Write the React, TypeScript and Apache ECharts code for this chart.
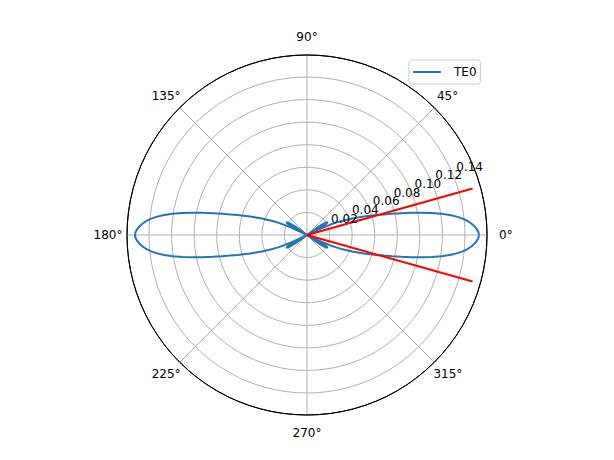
import React, { useEffect, useRef } from 'react';
import * as echarts from 'echarts';

const seriesName = 'TE0';
const angleTickValues = [0, 45, 90, 135, 180, 225, 270, 315];
const angleTickLabels = ['0°', '45°', '90°', '135°', '180°', '225°', '270°', '315°'];
const radiusTickValues = [0.02, 0.04, 0.06, 0.08, 0.1, 0.12, 0.14];
const radiusTickLabels = ['0.02', '0.04', '0.06', '0.08', '0.10', '0.12', '0.14'];
const radiusMax = 0.1595;

// Pattern, quadrant by quadrant (angle in degrees, radius)
const q1Angle = [0, 1, 2, 3, 4, 5, 6, 7, 8, 9, 10, 11, 12, 13, 14, 15, 16, 18, 20, 22, 23, 24, 25, 26, 27, 28, 29, 30, 31, 32, 33, 34, 35, 36, 37, 38, 45, 60, 75, 90];
const q1Radius = [0.1524, 0.1519, 0.1505, 0.1485, 0.146, 0.1427, 0.1387, 0.1337, 0.1278, 0.1205, 0.1123, 0.1035, 0.0945, 0.0858, 0.0778, 0.0705, 0.064, 0.0528, 0.0425, 0.033, 0.028, 0.0222, 0.015, 0.007, 0.0, 0.008, 0.014, 0.0185, 0.0208, 0.0215, 0.0205, 0.018, 0.014, 0.009, 0.004, 0.0, 0, 0, 0, 0];
const q2Angle = [90, 105, 120, 135, 142, 143, 144, 145, 146, 147, 148, 149, 150, 151, 152, 153, 154, 155, 156, 157, 158, 160, 162, 164, 165, 166, 167, 168, 169, 170, 171, 172, 173, 174, 175, 176, 177, 178, 179, 180];
const q2Radius = [0, 0, 0, 0, 0.0, 0.004, 0.009, 0.014, 0.018, 0.0205, 0.0215, 0.0208, 0.0185, 0.014, 0.008, 0.0, 0.007, 0.015, 0.0222, 0.028, 0.033, 0.0425, 0.0528, 0.064, 0.0705, 0.0778, 0.0858, 0.0945, 0.1035, 0.1123, 0.1205, 0.1278, 0.1337, 0.1387, 0.1427, 0.146, 0.1485, 0.1505, 0.1519, 0.1524];
const q3Angle = [180, 181, 182, 183, 184, 185, 186, 187, 188, 189, 190, 191, 192, 193, 194, 195, 196, 198, 200, 202, 203, 204, 205, 206, 207, 208, 209, 210, 211, 212, 213, 214, 215, 216, 217, 218, 225, 240, 255, 270];
const q3Radius = [0.1524, 0.1519, 0.1505, 0.1485, 0.146, 0.1427, 0.1387, 0.1337, 0.1278, 0.1205, 0.1123, 0.1035, 0.0945, 0.0858, 0.0778, 0.0705, 0.064, 0.0528, 0.0425, 0.033, 0.028, 0.0222, 0.015, 0.007, 0.0, 0.008, 0.014, 0.0185, 0.0208, 0.0215, 0.0205, 0.018, 0.014, 0.009, 0.004, 0.0, 0, 0, 0, 0];
const q4Angle = [270, 285, 300, 315, 322, 323, 324, 325, 326, 327, 328, 329, 330, 331, 332, 333, 334, 335, 336, 337, 338, 340, 342, 344, 345, 346, 347, 348, 349, 350, 351, 352, 353, 354, 355, 356, 357, 358, 359, 360];
const q4Radius = [0, 0, 0, 0, 0.0, 0.004, 0.009, 0.014, 0.018, 0.0205, 0.0215, 0.0208, 0.0185, 0.014, 0.008, 0.0, 0.007, 0.015, 0.0222, 0.028, 0.033, 0.0425, 0.0528, 0.064, 0.0705, 0.0778, 0.0858, 0.0945, 0.1035, 0.1123, 0.1205, 0.1278, 0.1337, 0.1387, 0.1427, 0.146, 0.1485, 0.1505, 0.1519, 0.1524];

// Red beam-edge lines
const beamEdgeAngles = [15.7, 344.3];
const beamEdgeRadius = [0, 0.1524];

const FONT = 'DejaVu Sans';
const GRID = '#b0b0b0';

// per-label padding so that every angle label is centred at the same distance, as in the reference
const anglePad: number[][] = [
  [0, 0, 0, 16],
  [0, 0, 9, 5.5],
  [0, 0, 16, 0],
  [0, 2, 9, 0],
  [0, 8.5, 0, 0],
  [9, 2, 0, 0],
  [16, 0, 0, 0],
  [9, 0, 0, 2],
];

export default function App() {
  const ref = useRef<HTMLDivElement>(null);
  useEffect(() => {
    document.body.style.margin = '0';
    if (!ref.current) return;
    const chart = echarts.init(ref.current, undefined, { renderer: 'svg' });

    const lobe: number[][] = [];
    const quads = [[q1Angle, q1Radius], [q2Angle, q2Radius], [q3Angle, q3Radius], [q4Angle, q4Radius]];
    quads.forEach(([a, r]) => a.forEach((ang, i) => lobe.push([r[i], ang])));

    const ringColors = radiusTickValues.map(() => GRID);
    ringColors.unshift(GRID);
    ringColors.push('#000000');

    const rich: any = {};
    anglePad.forEach((p, i) => {
      rich['a' + i] = { padding: p, fontSize: 12, fontFamily: FONT, color: '#000000' };
    });

    const option: any = {
      animation: false,
      backgroundColor: '#ffffff',
      polar: [
        { center: [307, 235], radius: 180 },
        { center: [307, 235], radius: 180 },
      ],
      angleAxis: [
        {
          polarIndex: 0,
          type: 'value',
          min: 0,
          max: 360,
          interval: 45,
          startAngle: 0,
          clockwise: false,
          axisLine: { show: true, lineStyle: { color: '#000000', width: 1 } },
          axisTick: { show: false },
          splitLine: { show: true, lineStyle: { color: GRID, width: 1 } },
          axisLabel: {
            show: true,
            margin: -4,
            color: '#000000',
            fontSize: 12,
            fontFamily: FONT,
            rich,
            formatter: (v: number) => {
              const i = angleTickValues.indexOf(v);
              return i >= 0 ? '{a' + i + '|' + angleTickLabels[i] + '}' : '';
            },
          },
        },
        {
          polarIndex: 1,
          type: 'value',
          min: 0,
          max: 360,
          startAngle: 22.5,
          clockwise: false,
          axisLine: { show: false },
          axisTick: { show: false },
          splitLine: { show: false },
          axisLabel: { show: false },
        },
      ],
      radiusAxis: [
        {
          polarIndex: 0,
          type: 'value',
          min: 0,
          max: radiusMax,
          interval: 0.02,
          axisLine: { show: false },
          axisTick: { show: false },
          axisLabel: { show: false },
          splitLine: { show: true, lineStyle: { color: ringColors, width: 1 } },
        },
        {
          polarIndex: 1,
          type: 'value',
          min: 0,
          max: radiusMax,
          interval: 0.02,
          z: 10,
          axisLine: { show: false },
          axisTick: { show: false },
          splitLine: { show: false },
          axisLabel: {
            show: true,
            margin: 2,
            align: 'left',
            verticalAlign: 'bottom',
            padding: [0, 0, 0, 4],
            color: '#000000',
            fontSize: 12,
            fontFamily: FONT,
            formatter: (v: number) => {
              const i = radiusTickValues.findIndex((t) => Math.abs(t - v) < 1e-6);
              return i >= 0 ? radiusTickLabels[i] : '';
            },
          },
        },
      ],
      legend: {
        data: [seriesName],
        icon: 'rect',
        left: 409,
        top: 60,
        orient: 'vertical',
        padding: [5, 4, 5, 4],
        itemWidth: 28,
        itemHeight: 2,
        backgroundColor: 'rgba(255,255,255,0.8)',
        borderColor: '#cccccc',
        borderWidth: 1,
        borderRadius: 3,
        textStyle: { color: '#000000', fontSize: 12, fontFamily: FONT, padding: [0, 0, 0, 8], lineHeight: 14 },
      },
      series: [
        {
          name: seriesName,
          type: 'line',
          coordinateSystem: 'polar',
          polarIndex: 0,
          data: lobe,
          symbol: 'none',
          smooth: false,
          lineStyle: { color: '#1f77b4', width: 2 },
          itemStyle: { color: '#1f77b4' },
          z: 2,
        },
        ...beamEdgeAngles.map((a) => ({
          type: 'line',
          coordinateSystem: 'polar',
          polarIndex: 0,
          data: beamEdgeRadius.map((r) => [r, a]),
          symbol: 'none',
          lineStyle: { color: '#ff0000', width: 2 },
          itemStyle: { color: '#ff0000' },
          z: 3,
        })),
      ],
    };
    chart.setOption(option);
    return () => chart.dispose();
  }, []);
  return <div ref={ref} style={{ width: 614, height: 460 }} />;
}
